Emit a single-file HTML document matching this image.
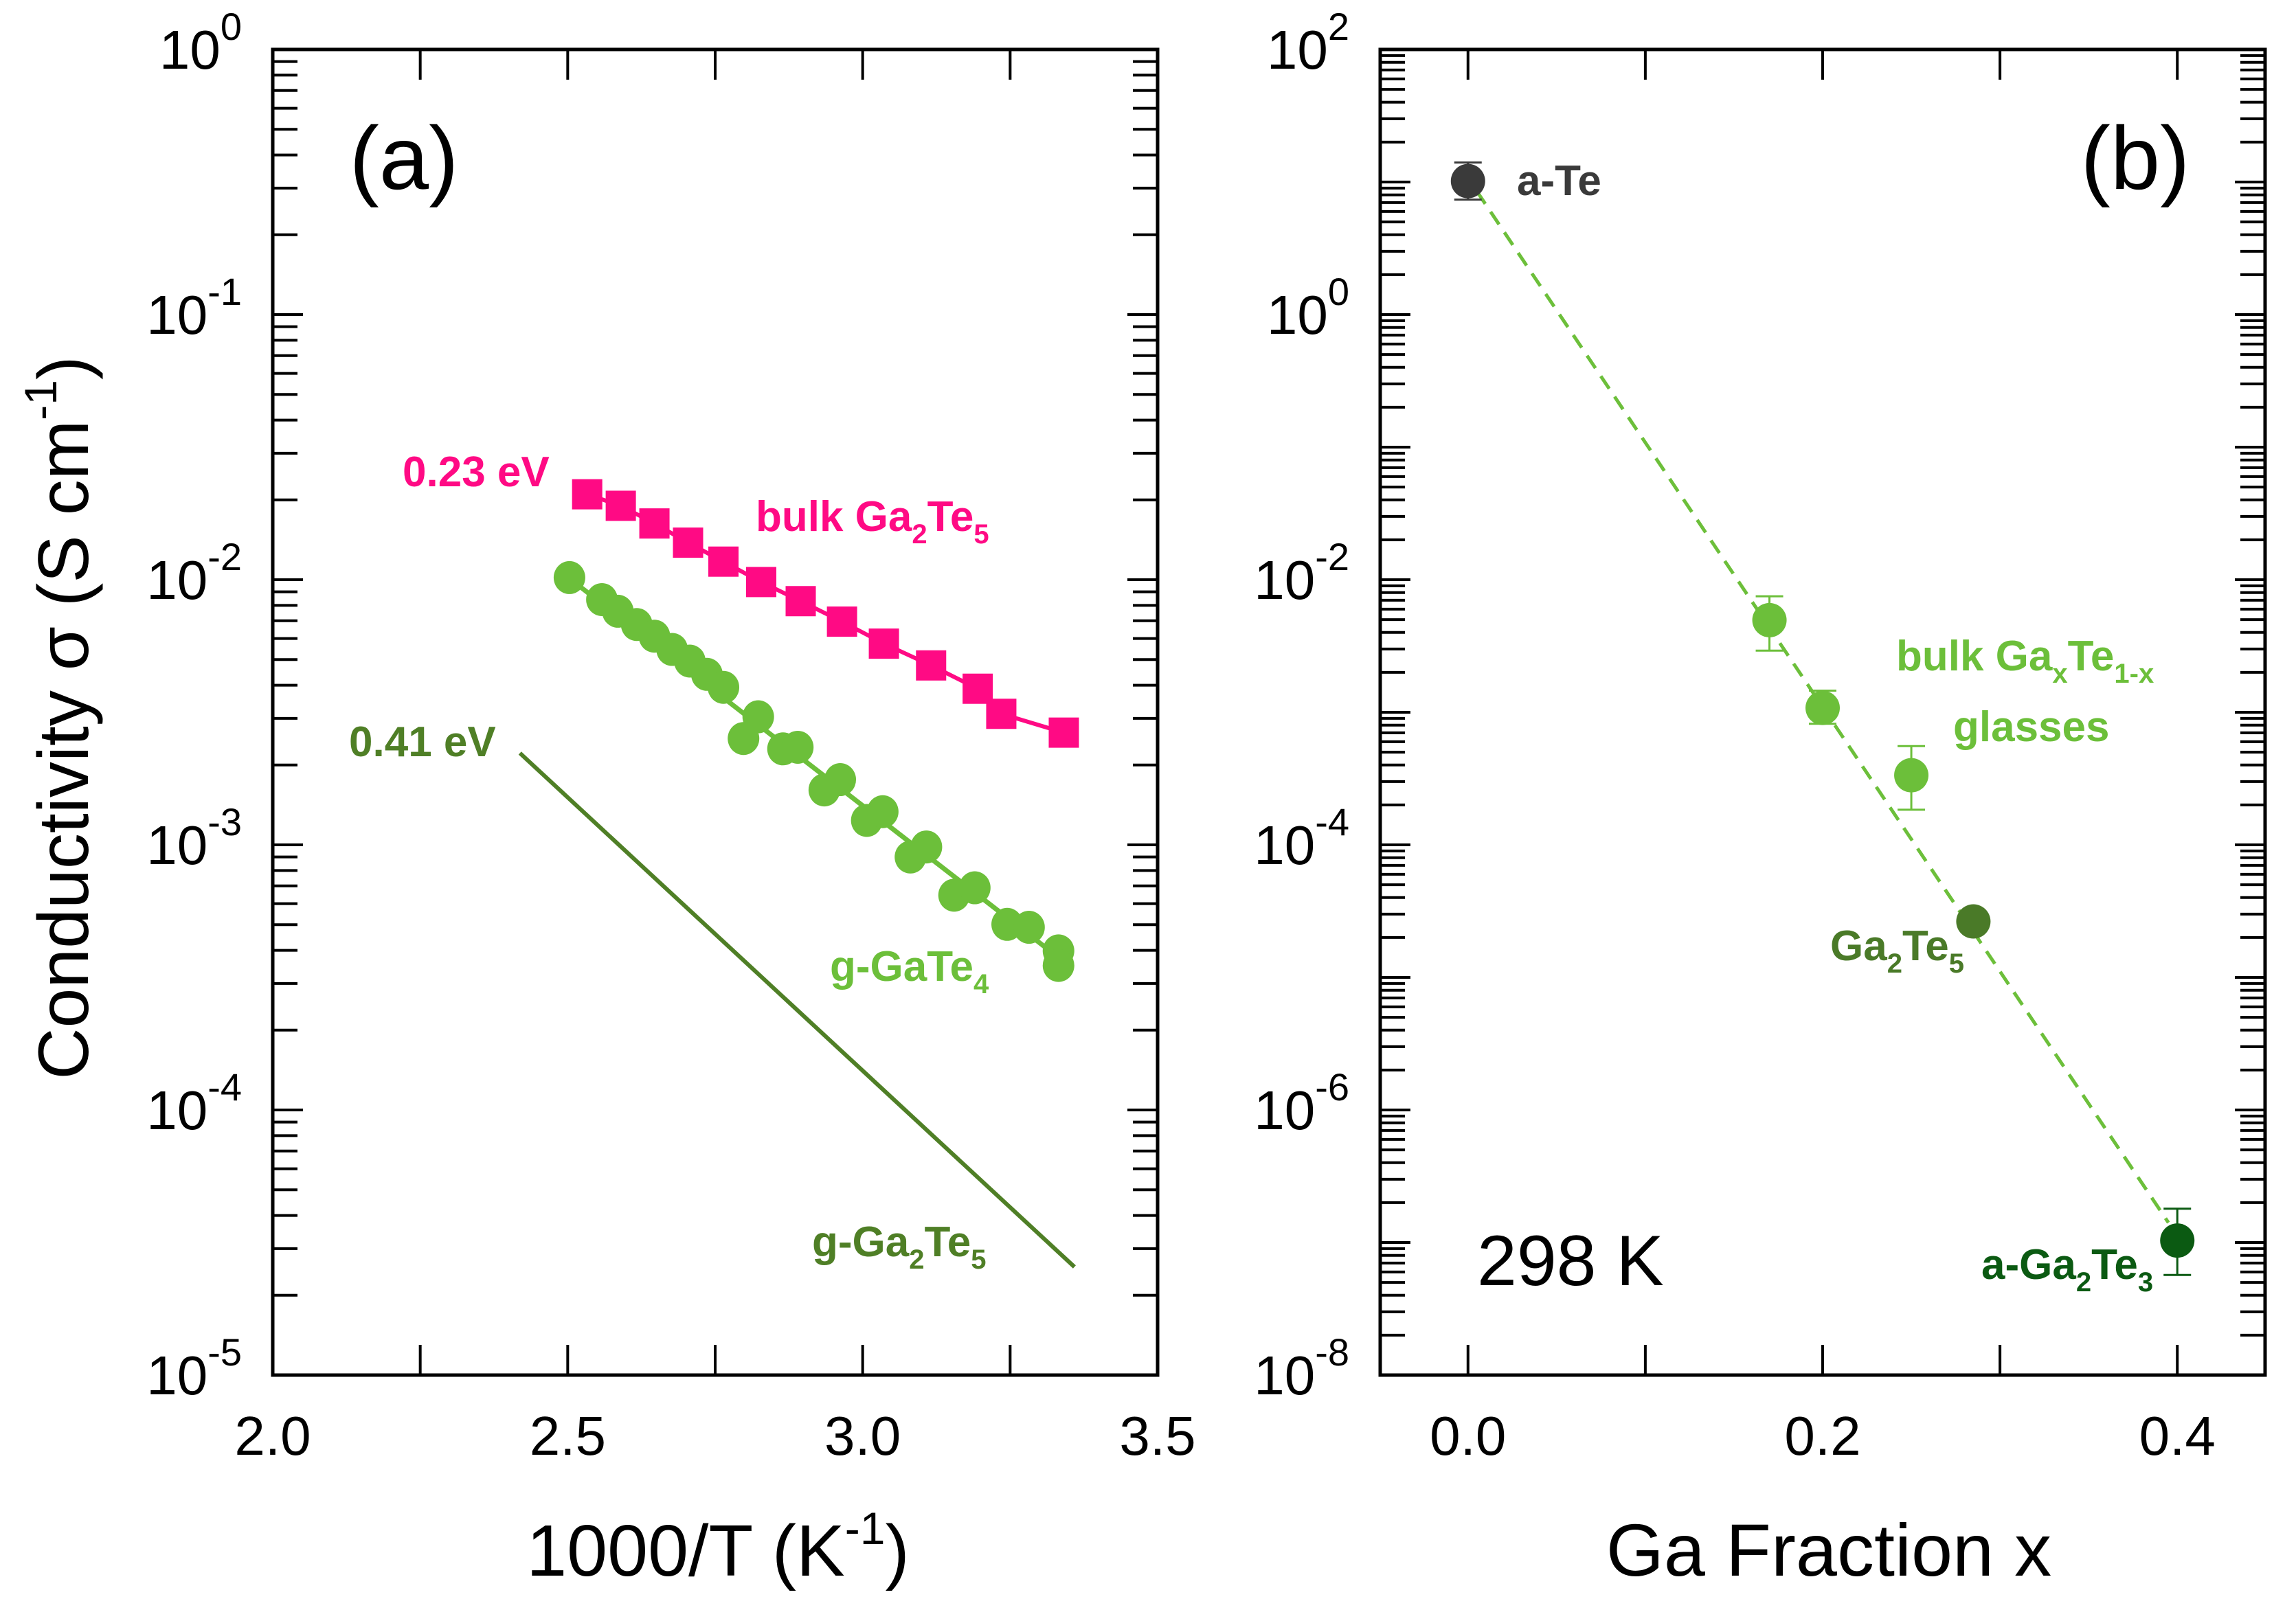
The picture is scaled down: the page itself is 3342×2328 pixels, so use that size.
<!DOCTYPE html>
<html><head><meta charset="utf-8">
<style>
html,body{margin:0;padding:0;background:#fff;}
svg{display:block;font-family:"Liberation Sans",Arial,sans-serif;}
</style></head>
<body>
<svg id="fig" width="3342" height="2328" viewBox="0 0 3342 2328" xmlns="http://www.w3.org/2000/svg"></svg>
<script>
// ---- Panel (a) data ----
const bulkX = [2.533,2.590,2.647,2.704,2.764,2.828,2.895,2.965,3.036,3.116,3.195,3.235,3.341];
const bulkY = [0.0210,0.0190,0.0163,0.0138,0.0117,0.0098,0.0083,0.00695,0.00574,0.00475,0.00388,0.00312,0.00265];
const gaTe4X = [2.503,2.558,2.585,2.617,2.647,2.677,2.707,2.736,2.764,2.798,2.823,2.865,2.890,2.935,2.962,3.007,3.034,3.081,3.108,3.155,3.190,3.245,3.282,3.332,3.332];
const gaTe4Log = [-1.992,-2.075,-2.119,-2.169,-2.213,-2.263,-2.307,-2.357,-2.406,-2.599,-2.517,-2.638,-2.632,-2.793,-2.754,-2.908,-2.875,-3.046,-3.008,-3.190,-3.162,-3.300,-3.311,-3.400,-3.455];
const gaTe4FitX = [2.50,3.335];
const gaTe4FitLog = [-1.99,-3.43];
const ga2Te5X = [2.419,3.359];
const ga2Te5Log = [-2.654,-4.592];
const aXTicks = [2.0,2.5,3.0,3.5];
const aXTickLabels = ["2.0","2.5","3.0","3.5"];
const aYExp = [0,-1,-2,-3,-4,-5];
// ---- Panel (b) data ----
const bX = [0.0,0.17,0.20,0.25,0.285,0.40];
const bLog = [1.007,-2.305,-2.967,-3.475,-4.578,-6.985];
const bErrUp = [0.14,0.18,0.13,0.22,0,0.24];
const bErrDn = [0.14,0.23,0.12,0.26,0,0.26];
const bColors = ["#3a3a3a","#6cbf3a","#6cbf3a","#6cbf3a","#4a7a28","#0b5a12"];
const bFitX = [0.005,0.395];
const bFitLog = [0.93,-6.85];
const bXTicks = [0.0,0.2,0.4];
const bXTickLabels = ["0.0","0.2","0.4"];
const bYExp = [2,0,-2,-4,-6,-8];

const NS="http://www.w3.org/2000/svg";
const svg=document.getElementById('fig');
function mk(tag,attrs,parent){const e=document.createElementNS(NS,tag);for(const k in attrs)e.setAttribute(k,attrs[k]);(parent||svg).appendChild(e);return e;}

const A={l:397,r:1685,t:72,b:2002,x0:2.0,x1:3.5,y0:-5,y1:0};
const B={l:2009,r:3297,t:72,b:2002,x0:-0.0495,x1:0.4495,y0:-8,y1:2};
function sx(P,v){return P.l+(v-P.x0)/(P.x1-P.x0)*(P.r-P.l);}
function sy(P,lg){return P.b-(lg-P.y0)/(P.y1-P.y0)*(P.b-P.t);}

function frame(P,name,majorLen,minorLen,xTickStep){
  const g=mk('g',{});
  
  
  mk('rect',{x:P.l,y:P.t,width:P.r-P.l,height:P.b-P.t,fill:'none',stroke:'#000','stroke-width':5},g);
  for(let d=P.y0; d<=P.y1; d++){
    const y=sy(P,d);
    mk('line',{x1:P.l,y1:y,x2:P.l+majorLen,y2:y,stroke:'#000','stroke-width':4},g);
    mk('line',{x1:P.r,y1:y,x2:P.r-majorLen,y2:y,stroke:'#000','stroke-width':4},g);
    if(d<P.y1){for(let m=2;m<=9;m++){const yy=sy(P,d+Math.log10(m));
      mk('line',{x1:P.l,y1:yy,x2:P.l+minorLen,y2:yy,stroke:'#000','stroke-width':4},g);
      mk('line',{x1:P.r,y1:yy,x2:P.r-minorLen,y2:yy,stroke:'#000','stroke-width':4},g);}}
  }
  const start=Math.ceil(P.x0/xTickStep-1e-6)*xTickStep;
  for(let v=start; v<=P.x1+1e-6; v+=xTickStep){
    const x=sx(P,v);
    mk('line',{x1:x,y1:P.b,x2:x,y2:P.b-majorLen,stroke:'#000','stroke-width':4},g);
    mk('line',{x1:x,y1:P.t,x2:x,y2:P.t+majorLen,stroke:'#000','stroke-width':4},g);
  }
}
frame(A,'panel-a',44,36,0.25);
frame(B,'panel-b',44,36,0.1);

function yLabels(P,exps,pname){
  exps.forEach(e=>{
    const t=mk('text',{x:P.l-45,y:sy(P,e)+28,'text-anchor':'end','font-size':80,fill:'#000'});
    
    
    const a=mk('tspan',{},t);a.textContent='10';
    const b=mk('tspan',{dy:-42,'font-size':56},t);b.textContent=String(e);
  });
}
yLabels(A,aYExp,'panel-a');
yLabels(B,bYExp,'panel-b');
function xLabels(P,ticks,labels,pname){
  ticks.forEach((v,i)=>{
    const t=mk('text',{x:sx(P,v),y:2118,'text-anchor':'middle','font-size':80,fill:'#000'});
    
    
    t.textContent=labels[i];
  });
}
xLabels(A,aXTicks,aXTickLabels,'panel-a');
xLabels(B,bXTicks,bXTickLabels,'panel-b');

let t=mk('text',{x:1045,y:2294,'text-anchor':'middle','font-size':106,fill:'#000'});


t.innerHTML='1000/T (K<tspan dy="-46" font-size="66">-1</tspan><tspan dy="46">)</tspan>';
t=mk('text',{x:2662,y:2294,'text-anchor':'middle','font-size':108,fill:'#000'});


t.textContent='Ga Fraction x';
t=mk('text',{x:0,y:0,'text-anchor':'middle','font-size':104,fill:'#000',transform:'translate(128,1045) rotate(-90)'});


t.innerHTML='Conductivity σ (S cm<tspan dy="-46" font-size="66">-1</tspan><tspan dy="46">)</tspan>';

t=mk('text',{x:588,y:275,'text-anchor':'middle','font-size':130,fill:'#000'});


t.textContent='(a)';
t=mk('text',{x:3108,y:275,'text-anchor':'middle','font-size':130,fill:'#000'});


t.textContent='(b)';

const PINK='#ff0a84', LG='#6cbf3a', DG='#4f7f26';
let pts=bulkX.map((x,i)=>sx(A,x)+','+sy(A,Math.log10(bulkY[i]))).join(' ');
let e=mk('polyline',{points:pts,fill:'none',stroke:PINK,'stroke-width':6});


bulkX.forEach((x,i)=>{
  const r=mk('rect',{x:sx(A,x)-22,y:sy(A,Math.log10(bulkY[i]))-22,width:44,height:44,fill:PINK});
  
  
});
e=mk('line',{x1:sx(A,gaTe4FitX[0]),y1:sy(A,gaTe4FitLog[0]),x2:sx(A,gaTe4FitX[1]),y2:sy(A,gaTe4FitLog[1]),stroke:LG,'stroke-width':7});


gaTe4X.forEach((x,i)=>{
  const c=mk('ellipse',{cx:sx(A,x),cy:sy(A,gaTe4Log[i]),rx:23,ry:24,fill:LG});
  
  
});
e=mk('line',{x1:sx(A,ga2Te5X[0]),y1:sy(A,ga2Te5Log[0]),x2:sx(A,ga2Te5X[1]),y2:sy(A,ga2Te5Log[1]),stroke:DG,'stroke-width':6});



function label(x,y,html,color,name){
  const t=mk('text',{x:x,y:y,'font-size':62,'font-weight':'bold',fill:color});
  
  
  t.innerHTML=html;return t;
}
const sub=(s)=>`<tspan dy="18" font-size="40">${s}</tspan><tspan dy="-18">`;
label(586,708,'0.23 eV',PINK,'label-0-23-ev');
label(1100,773,'bulk Ga'+sub('2')+'Te</tspan>'+sub('5')+'</tspan>',PINK,'label-bulk-ga2te5');
label(508,1101,'0.41 eV',DG,'label-0-41-ev');
label(1208,1428,'g-GaTe'+sub('4')+'</tspan>',LG,'label-g-gate4');
label(1182,1829,'g-Ga'+sub('2')+'Te</tspan>'+sub('5')+'</tspan>',DG,'label-g-ga2te5');

e=mk('line',{x1:sx(B,bFitX[0]),y1:sy(B,bFitLog[0]),x2:sx(B,bFitX[1]),y2:sy(B,bFitLog[1]),stroke:LG,'stroke-width':5,'stroke-dasharray':'22 14'});


bX.forEach((x,i)=>{
  const cx=sx(B,x), cy=sy(B,bLog[i]);
  if(bErrUp[i]>0){
    const g=mk('g',{stroke:bColors[i],'stroke-width':3});
    
    
    const yu=sy(B,bLog[i]+bErrUp[i]), yd=sy(B,bLog[i]-bErrDn[i]);
    mk('line',{x1:cx,y1:yu,x2:cx,y2:yd},g);
    mk('line',{x1:cx-20,y1:yu,x2:cx+20,y2:yu},g);
    mk('line',{x1:cx-20,y1:yd,x2:cx+20,y2:yd},g);
  }
  const c=mk('circle',{cx:cx,cy:cy,r:25,fill:bColors[i]});
  
  
});
label(2208,284,'a-Te','#3a3a3a','label-a-te');
label(2760,976,'bulk Ga'+sub('x')+'Te</tspan>'+sub('1-x')+'</tspan>',LG,'label-bulk-gaxte1-x');
label(2843,1079,'glasses',LG,'label-glasses');
label(2664,1398,'Ga'+sub('2')+'Te</tspan>'+sub('5')+'</tspan>','#4a7a28','label-ga2te5');
label(2884,1862,'a-Ga'+sub('2')+'Te</tspan>'+sub('3')+'</tspan>','#0b5a12','label-a-ga2te3');
t=mk('text',{x:2150,y:1871,'font-size':104,fill:'#000'});


t.textContent='298 K';
</script>
</body></html>
